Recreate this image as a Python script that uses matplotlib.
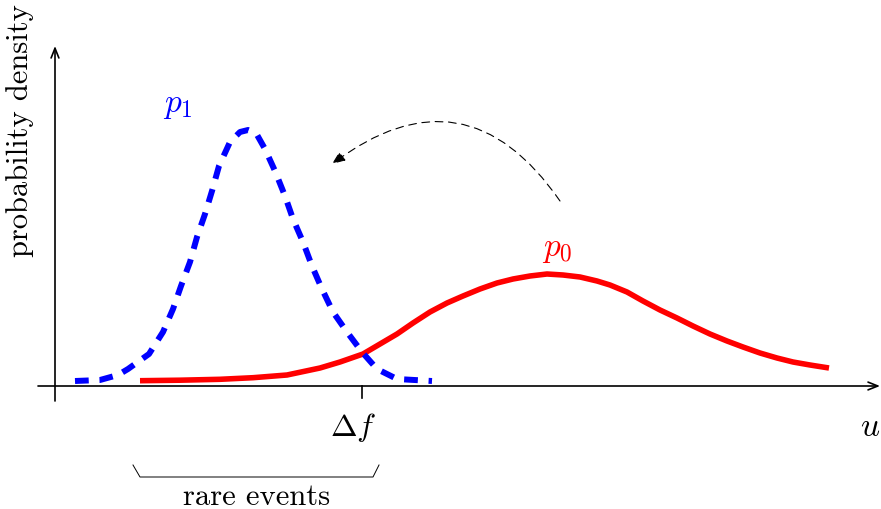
import matplotlib
matplotlib.use("Agg")
import matplotlib.pyplot as plt
from matplotlib.patches import FancyArrowPatch

plt.rcParams["mathtext.fontset"] = "cm"

# Sketch of the two densities (u in arbitrary units, density in arbitrary units)
p1_u = [0.20, 0.45, 0.63, 0.73, 0.94, 1.08, 1.18, 1.26, 1.35, 1.42, 1.50, 1.57,
        1.64, 1.75, 1.85, 1.93, 2.01, 2.10, 2.20, 2.30, 2.38, 2.48, 2.57, 2.67,
        2.78, 2.92, 3.07, 3.22, 3.42, 3.77]
p1_density = [0.05, 0.06, 0.11, 0.17, 0.32, 0.54, 0.77, 1.00, 1.24, 1.49, 1.72, 1.95,
              2.20, 2.44, 2.54, 2.56, 2.53, 2.37, 2.15, 1.90, 1.67, 1.44, 1.20, 0.97,
              0.74, 0.54, 0.34, 0.17, 0.07, 0.05]

p0_u = [0.85, 1.25, 1.65, 1.98, 2.32, 2.65, 2.85, 3.08, 3.25, 3.42, 3.58, 3.75,
        3.92, 4.08, 4.25, 4.42, 4.58, 4.75, 4.92, 5.08, 5.25, 5.42, 5.55, 5.72,
        5.88, 6.05, 6.22, 6.38, 6.55, 6.72, 6.88, 7.05, 7.22, 7.38, 7.55, 7.74]
p0_density = [0.053, 0.058, 0.067, 0.083, 0.11, 0.18, 0.24, 0.32, 0.42, 0.52, 0.63, 0.74,
              0.83, 0.90, 0.97, 1.03, 1.07, 1.10, 1.12, 1.11, 1.09, 1.05, 1.01, 0.94,
              0.85, 0.76, 0.68, 0.60, 0.52, 0.45, 0.39, 0.33, 0.28, 0.24, 0.21, 0.18]

delta_f = 3.07
rare_range = (0.85, 3.18)

fig = plt.figure(figsize=(8.81, 5.10), dpi=100)
ax = fig.add_axes([0, 0, 1, 1])
ax.set_xlim(-0.55, 8.26)
ax.set_ylim(-1.23, 3.87)
ax.axis("off")

# coordinate axes with open arrow heads
axis_kw = dict(arrowstyle="->,head_length=0.7,head_width=0.28", lw=1.2, color="black",
               shrinkA=0, shrinkB=0)
ax.annotate("", xy=(8.25, 0), xytext=(-0.17, 0), arrowprops=axis_kw)
ax.annotate("", xy=(0, 3.40), xytext=(0, -0.15), arrowprops=axis_kw)

# tick at the threshold
ax.plot([delta_f, delta_f], [0, -0.12], color="black", lw=1.2)

# densities
ax.plot(p0_u, p0_density, color=(1, 0, 0), lw=4.0, solid_capstyle="butt",
        solid_joinstyle="round", zorder=3)
ax.plot(p1_u, p1_density, color=(0, 0, 1), lw=4.3, dashes=(2.3, 1.8),
        dash_capstyle="butt", dash_joinstyle="round", zorder=4)

# curved arrow from p0 towards p1
arc = FancyArrowPatch((5.05, 1.85), (2.77, 2.22),
                      connectionstyle="arc3,rad=0.52",
                      arrowstyle="-|>,head_length=8,head_width=3.2",
                      lw=0.8, linestyle=(0, (7, 5)), color="black",
                      shrinkA=0, shrinkB=0)
ax.add_patch(arc)

# labels
ax.text(1.23, 2.82, r"$p_1$", color=(0, 0, 1), fontsize=24, ha="center", va="center")
ax.text(5.02, 1.38, r"$p_0$", color=(1, 0, 0), fontsize=24, ha="center", va="center")
ax.text(2.98, -0.41, r"$\Delta f$", fontsize=23, ha="center", va="center")
ax.text(8.15, -0.40, r"$u$", fontsize=24, ha="center", va="center")
ax.text(-0.345, 2.56, "probability density", family="cmr10", fontsize=22,
        rotation=90, ha="center", va="center")

# bracket for the rare events
x0, x1 = rare_range
ax.plot([x0 - 0.07, x0, x1, x1 + 0.06], [-0.79, -0.91, -0.91, -0.79],
        color="black", lw=0.7)
ax.text((x0 + x1) / 2, -1.10, "rare events", family="cmr10", fontsize=22,
        ha="center", va="center")

fig.savefig("out.png", dpi=100)
